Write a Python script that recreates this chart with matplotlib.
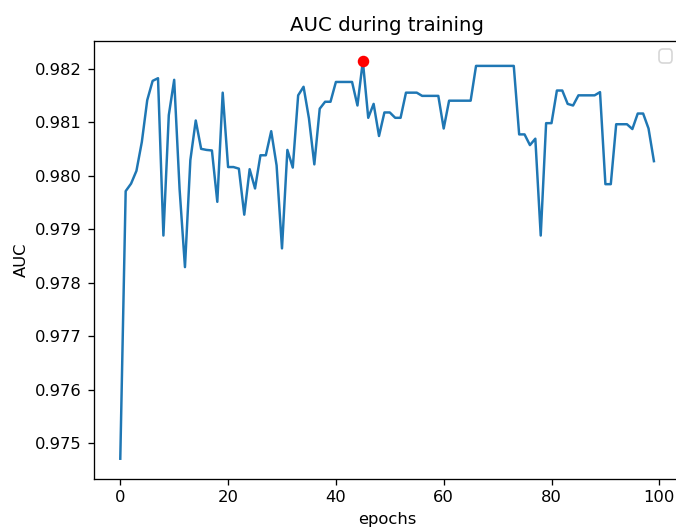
import numpy as np
import matplotlib
matplotlib.use("Agg")
import matplotlib.pyplot as plt

# Validation AUC per epoch
epochs = list(range(100))
auc = [
    0.97471, 0.97971, 0.97985, 0.98009, 0.98063, 0.98141, 0.98177, 0.98182, 0.97888, 0.98113,
    0.98179, 0.97975, 0.97829, 0.98029, 0.98103, 0.98050, 0.98048, 0.98047, 0.97951, 0.98155,
    0.98016, 0.98016, 0.98013, 0.97927, 0.98012, 0.97976, 0.98038, 0.98038, 0.98083, 0.98019,
    0.97864, 0.98048, 0.98015, 0.98150, 0.98166, 0.98107, 0.98021, 0.98125, 0.98138, 0.98138,
    0.98175, 0.98175, 0.98175, 0.98175, 0.98131, 0.98214, 0.98108, 0.98134, 0.98074, 0.98118,
    0.98118, 0.98108, 0.98108, 0.98155, 0.98155, 0.98155, 0.98149, 0.98149, 0.98149, 0.98149,
    0.98088, 0.98140, 0.98140, 0.98140, 0.98140, 0.98140, 0.98205, 0.98205, 0.98205, 0.98205,
    0.98205, 0.98205, 0.98205, 0.98205, 0.98077, 0.98077, 0.98057, 0.98069, 0.97888, 0.98098,
    0.98098, 0.98159, 0.98159, 0.98134, 0.98131, 0.98150, 0.98150, 0.98150, 0.98150, 0.98156,
    0.97984, 0.97984, 0.98096, 0.98096, 0.98096, 0.98087, 0.98116, 0.98116, 0.98088, 0.98027,
]

best_epoch = int(np.argmax(auc))
best_auc = auc[best_epoch]

dpi = 118.35
fig = plt.figure(figsize=(676 / dpi, 528 / dpi), dpi=dpi)

ax = fig.add_axes([93.6 / 676, (528 - 478.6) / 528, 587 / 676, 437.4 / 528])
ax.plot(epochs, auc)
ax.plot(best_epoch, best_auc, "ro")

ax.set_title("AUC during training")
ax.set_xlabel("epochs")
ax.set_ylabel("AUC")
ax.set_xticks([0, 20, 40, 60, 80, 100])
ax.set_yticks([0.975, 0.976, 0.977, 0.978, 0.979, 0.980, 0.981, 0.982])
ax.set_yticklabels(["0.975", "0.976", "0.977", "0.978", "0.979", "0.980", "0.981", "0.982"])
ax.legend(handles=[], loc="upper right")

fig.savefig("out.png", dpi=dpi)
